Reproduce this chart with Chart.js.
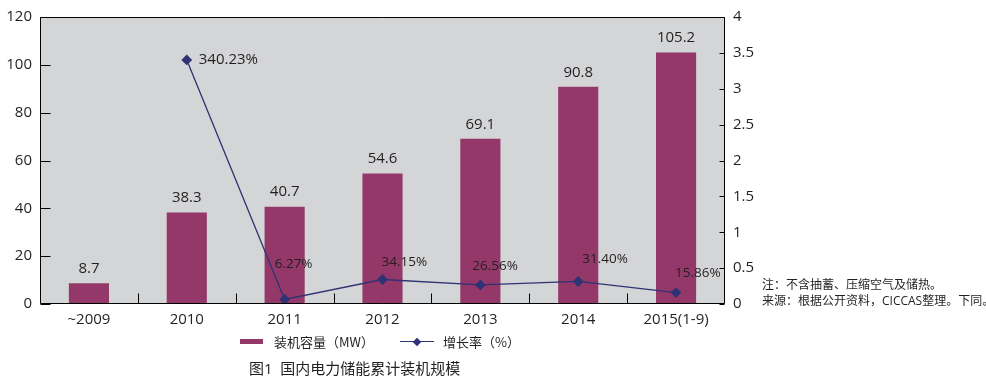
<!DOCTYPE html>
<html><head><meta charset="utf-8">
<script src="https://cdn.jsdelivr.net/npm/chart.js@4/dist/chart.umd.min.js"></script>
<style>
html,body{margin:0;padding:0;background:#fff;}
#wrap{position:relative;width:986px;height:380px;font-family:"Open Sans","Noto Sans CJK SC",sans-serif;color:#231f20;overflow:hidden;}
#c{position:absolute;left:0;top:0;}
.abs{position:absolute;white-space:nowrap;}
.lg{font-family:"Noto Sans CJK SC","Open Sans",sans-serif;font-size:13px;line-height:18px;top:333px;}
#title{left:249px;top:359px;font-size:15px;line-height:18px;}
#notes{left:762px;top:277px;font-size:12px;line-height:16px;}
</style></head>
<body>
<div id="wrap">
<canvas id="c" width="986" height="380"></canvas>
<div class="abs" id="sw1" style="left:240px;top:339px;width:23px;height:5px;"></div>
<div class="abs lg" style="left:274px;">装机容量（MW）</div>
<div class="abs" id="sw2" style="left:400px;top:341px;width:34px;height:1.4px;"></div>
<div class="abs" id="sw2d" style="left:414px;top:338.5px;width:6px;height:6px;transform:rotate(45deg);"></div>
<div class="abs lg" style="left:443px;">增长率（%）</div>
<div class="abs" id="title">图1&nbsp;&nbsp;国内电力储能累计装机规模</div>
<div class="abs" id="notes">注：不含抽蓄、压缩空气及储热。<br>来源：根据公开资料，CICCAS整理。下同。</div>
</div>
<script>
const categories = ['~2009','2010','2011','2012','2013','2014','2015(1-9)'];
const capacityMW = [8.7, 38.3, 40.7, 54.6, 69.1, 90.8, 105.2];
const growthPct = [null, 340.23, 6.27, 34.15, 26.56, 31.40, 15.86];
const leftTicks = [0, 20, 40, 60, 80, 100, 120];
const rightTicks = [0, 0.5, 1, 1.5, 2, 2.5, 3, 3.5, 4];

const BAR = '#933868', LINE = '#2f3274', TXT = '#231f20', PLOT = '#d4d5d7';
const FONT = '"Open Sans","Noto Sans CJK SC",sans-serif';
document.getElementById('sw1').style.background = BAR;
document.getElementById('sw2').style.background = LINE;
document.getElementById('sw2d').style.background = LINE;

// label nudges (dx, dy) for growth labels relative to their points
const growthLabelNudge = [null, [12, 0], [-10, -35], [-1, -17], [-8, -19], [4, -22], [-1, -19]];

const frame = {
  id: 'frame',
  beforeDraw(chart) {
    const {ctx, chartArea: a} = chart;
    ctx.save(); ctx.fillStyle = PLOT;
    ctx.fillRect(a.left, a.top, a.right - a.left, a.bottom - a.top);
    ctx.restore();
  },
  afterDatasetsDraw(chart) {
    const {ctx, chartArea: a, scales} = chart;
    ctx.save();
    ctx.strokeStyle = '#000'; ctx.lineWidth = 1;
    const L = Math.round(a.left) + 0.5, R = Math.round(a.right) - 0.5, T = Math.round(a.top) + 0.5, B = Math.round(a.bottom) - 0.5;
    ctx.beginPath(); ctx.rect(L, T, R - L, B - T); ctx.stroke();
    ctx.beginPath();
    scales.y.ticks.forEach(t => { const y = Math.round(scales.y.getPixelForValue(t.value)) + 0.5; ctx.moveTo(L, y); ctx.lineTo(L + 10, y); });
    scales.y1.ticks.forEach(t => { const y = Math.round(scales.y1.getPixelForValue(t.value)) + 0.5; ctx.moveTo(R, y); ctx.lineTo(R - 5, y); });
    for (let i = 1; i < categories.length; i++) {
      const x = Math.round(scales.x.getPixelForValue(i - 0.5)) + 0.5;
      ctx.moveTo(x, B); ctx.lineTo(x, B - 10);
    }
    ctx.stroke();
    // value labels
    ctx.fillStyle = TXT;
    ctx.font = '15px ' + FONT;
    ctx.textAlign = 'center'; ctx.textBaseline = 'bottom';
    chart.getDatasetMeta(1).data.forEach((el, i) => {
      ctx.fillText(String(capacityMW[i]), el.x, el.y - 7);
    });
    ctx.textAlign = 'left'; ctx.textBaseline = 'middle';
    chart.getDatasetMeta(0).data.forEach((el, i) => {
      if (growthPct[i] == null) return;
      const n = growthLabelNudge[i] || [0, -20];
      ctx.font = (i === 1 ? '15px ' : '13.5px ') + FONT;
      ctx.fillText(growthPct[i].toFixed(2) + '%', el.x + n[0], el.y + n[1]);
    });
    ctx.restore();
  }
};

new Chart(document.getElementById('c'), {
  data: {
    labels: categories,
    datasets: [
      {
        type: 'line', label: '增长率（%）', yAxisID: 'y1', order: 0,
        data: growthPct.map(v => v == null ? null : v / 100),
        borderColor: LINE, backgroundColor: LINE, borderWidth: 1.3,
        pointStyle: 'rectRot', pointRadius: 4.5, pointBackgroundColor: LINE, pointBorderColor: LINE,
        tension: 0, spanGaps: false
      },
      {
        type: 'bar', label: '装机容量（MW）', yAxisID: 'y', order: 1,
        data: capacityMW, backgroundColor: BAR,
        barPercentage: 0.41, categoryPercentage: 1
      }
    ]
  },
  options: {
    responsive: false, animation: false, devicePixelRatio: 1,
    layout: {padding: {left: 0, right: 221, top: 13, bottom: 46}},
    plugins: {legend: {display: false}, tooltip: {enabled: false}},
    scales: {
      x: {
        type: 'category', offset: true,
        grid: {display: false, drawTicks: false}, border: {display: false},
        ticks: {color: TXT, font: {family: FONT, size: 15}, padding: 7, maxRotation: 0, autoSkip: false},
        afterFit(s) { s.height = 30; }
      },
      y: {
        position: 'left', min: leftTicks[0], max: leftTicks[leftTicks.length - 1],
        grid: {display: false, drawTicks: false}, border: {display: false},
        ticks: {stepSize: leftTicks[1] - leftTicks[0], color: TXT, font: {family: FONT, size: 15}, padding: 8},
        afterFit(s) { s.width = 40; }
      },
      y1: {
        position: 'right', min: rightTicks[0], max: rightTicks[rightTicks.length - 1],
        grid: {display: false, drawTicks: false}, border: {display: false},
        ticks: {stepSize: rightTicks[1] - rightTicks[0], color: TXT, font: {family: FONT, size: 15}, padding: 8,
          callback: v => String(v)},
        afterFit(s) { s.width = 40; }
      }
    }
  },
  plugins: [frame]
});
</script>
</body></html>
